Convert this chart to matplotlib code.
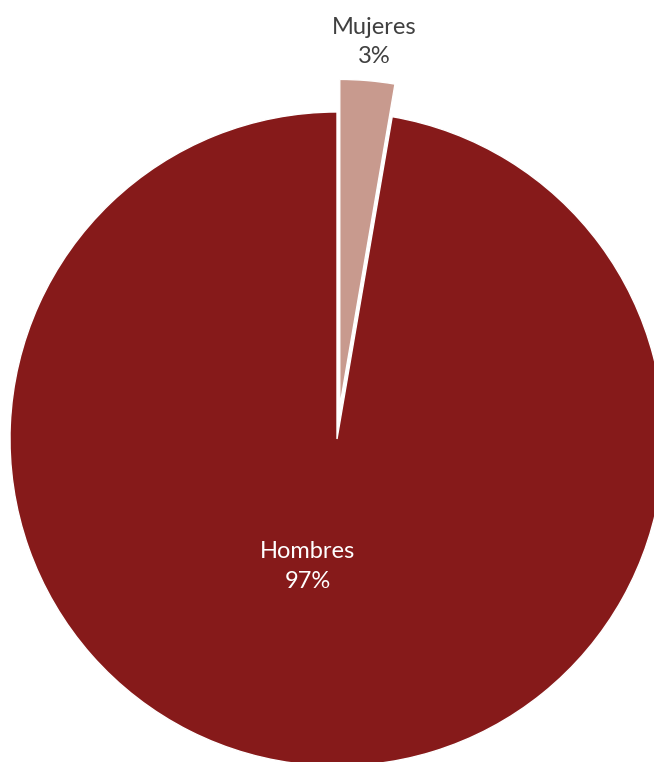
import numpy as np
import matplotlib.pyplot as plt

# Data
categories = ['Mujeres', 'Hombres']
values = [2.7, 97.3]
colors = ['#C89A8E', '#861A1A']
text_colors = ['#404040', 'white']
label_dist = [1.12, 0.40]
label_turn = [-0.5, -8]   # degrees, nudges label off the wedge bisector

plt.rcParams['font.family'] = ['Lato', 'DejaVu Sans']

fig = plt.figure(figsize=(6.54, 7.62), dpi=100)
ax = fig.add_axes([0, 0, 1, 1])

wedges, _ = ax.pie(values, colors=colors, startangle=90, counterclock=False,
                   explode=[0.1, 0], radius=1,
                   wedgeprops=dict(edgecolor='white', linewidth=1))

# Labels with percentages placed along the middle angle of each wedge
for w, name, v, tc, d, t in zip(wedges, categories, values, text_colors,
                                label_dist, label_turn):
    ang = np.deg2rad((w.theta1 + w.theta2) / 2 + t)
    cx, cy = w.center
    ax.text(cx + d * np.cos(ang), cy + d * np.sin(ang), f'{name}\n{round(v)}%',
            ha='center', va='center', color=tc, fontsize=17, linespacing=1.5)

# pie center at ~(337, 439) px, radius ~327 px
ax.set_aspect('auto')
ax.set_xlim(-337 / 327, (654 - 337) / 327)
ax.set_ylim(-(762 - 439) / 327, 439 / 327)
ax.axis('off')

fig.savefig('out.png', dpi=100)
